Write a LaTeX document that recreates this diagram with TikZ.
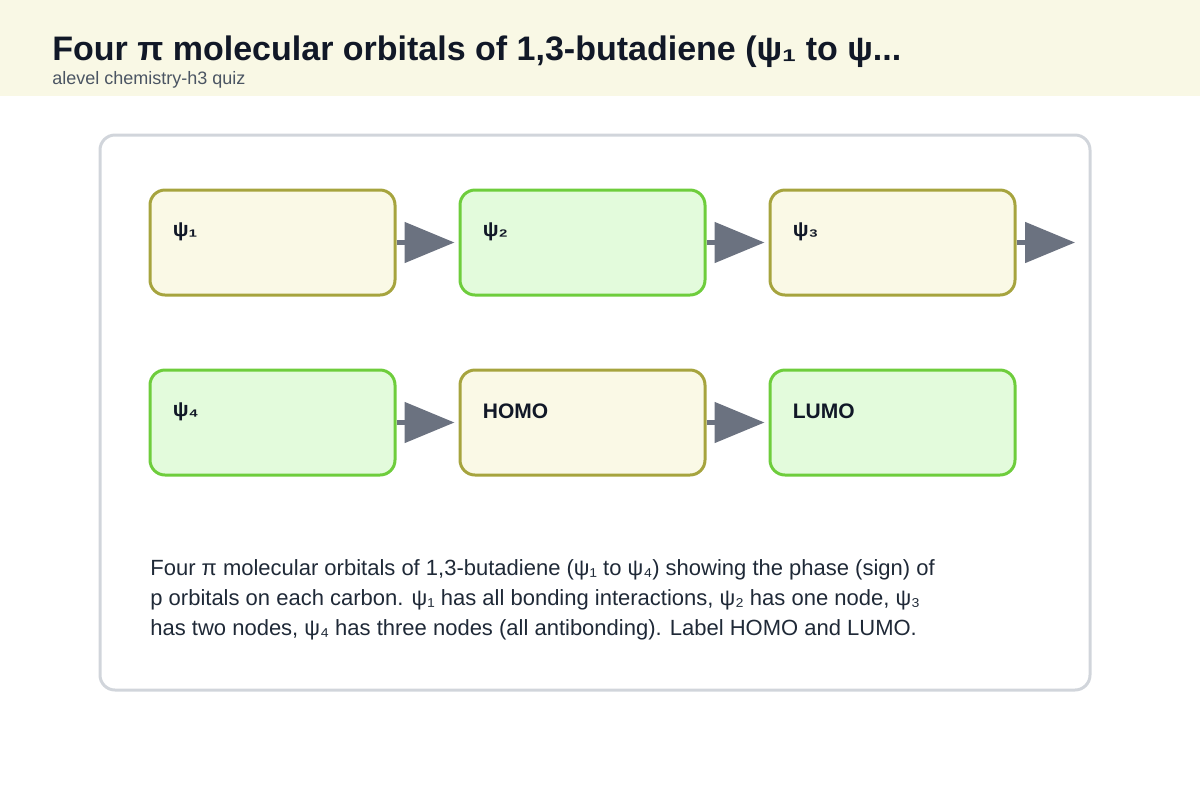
\documentclass[tikz,border=0pt]{standalone}
\usepackage{fontspec}
\setmainfont{Liberation Sans}
\usetikzlibrary{arrows.meta}
\definecolor{headcream}{RGB}{249,248,229}
\definecolor{titleink}{RGB}{17,24,39}
\definecolor{subink}{RGB}{75,85,99}
\definecolor{bodyink}{RGB}{31,41,55}
\definecolor{panelgray}{RGB}{209,213,219}
\definecolor{olivefill}{RGB}{250,249,230}
\definecolor{olivedraw}{RGB}{166,164,62}
\definecolor{mintfill}{RGB}{227,251,220}
\definecolor{mintdraw}{RGB}{110,205,60}
\definecolor{flowgray}{RGB}{107,114,128}

\begin{document}
\begin{tikzpicture}[x=0.5pt, y=-0.5pt,
    orbbox/.style={draw, rounded corners=7.5pt, line width=1.5pt,
      minimum width=122.5pt, minimum height=52.5pt, inner sep=0pt},
    oliveorb/.style={orbbox, draw=olivedraw, fill=olivefill},
    mintorb/.style={orbbox, draw=mintdraw, fill=mintfill},
    orbtag/.style={anchor=west, inner sep=0pt, text=titleink,
      font=\fontsize{10.5}{12}\selectfont\bfseries},
    flow/.style={-{Triangle[length=25pt, width=20pt]}, line width=2.5pt,
      draw=flowgray, shorten >=2pt}]
    \useasboundingbox (0,0) rectangle (1200,800);

    % Header band
    \fill[headcream] (0,0) rectangle (1200,96);
    \node[anchor=base west, inner sep=0pt, text=titleink,
      font=\fontsize{17}{20}\selectfont\bfseries] (title) at (52,60)
      {Four π molecular orbitals of 1,3-butadiene (ψ₁ to ψ...};
    \node[anchor=base west, inner sep=0pt, text=subink,
      font=\fontsize{9}{11}\selectfont] (subtitle) at (52,84)
      {alevel chemistry-h3 quiz};

    % Panel
    \draw[panelgray, line width=1.5pt, rounded corners=7.5pt]
      (100,135) rectangle (1090,690);

    % Orbital boxes
    \foreach \n/\x/\y/\s/\t in {o1/272.5/242.5/oliveorb/ψ₁,
                                o2/582.5/242.5/mintorb/ψ₂,
                                o3/892.5/242.5/oliveorb/ψ₃,
                                o4/272.5/422.5/mintorb/ψ₄,
                                o5/582.5/422.5/oliveorb/HOMO,
                                o6/892.5/422.5/mintorb/LUMO} {
      \node[\s] (\n) at (\x,\y) {};
      \node[orbtag] (\n tag) at ([shift={(24,43)}]\n.north west) {\t};
    }

    % Connectors
    \coordinate (rowend) at (1079,242.5);
    \draw[flow] (o1) -- (o2);
    \draw[flow] (o2) -- (o3);
    \draw[flow] (o3) -- (rowend);
    \draw[flow] (o4) -- (o5);
    \draw[flow] (o5) -- (o6);

    % Caption
    \node[anchor=base west, inner sep=0pt, align=left, text=bodyink,
      font=\fontsize{11}{15}\selectfont] (caption) at (150,635)
      {Four π molecular orbitals of 1,3-butadiene (ψ₁ to ψ₄) showing the phase (sign) of\\
       p orbitals on each carbon. ψ₁ has all bonding interactions, ψ₂ has one node, ψ₃\\
       has two nodes, ψ₄ has three nodes (all antibonding). Label HOMO and LUMO.};
  \end{tikzpicture}
\end{document}
